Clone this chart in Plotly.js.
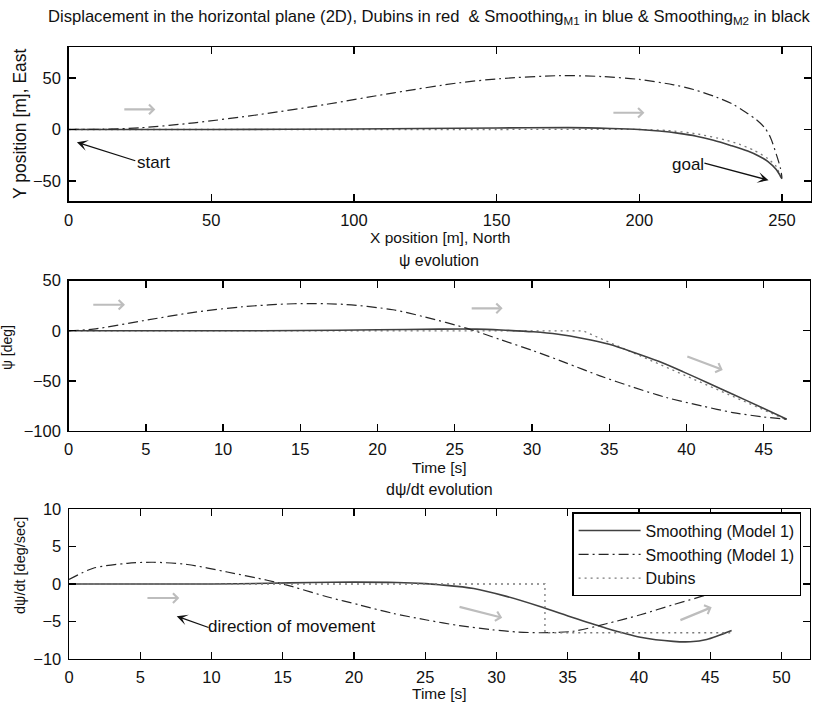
<!DOCTYPE html>
<html>
<head>
<meta charset="utf-8">
<script src="https://cdn.plot.ly/plotly-3.0.1.min.js"></script>
<style>html,body{margin:0;padding:0;background:#fff;}#chart{width:829px;height:704px;}</style>
</head>
<body>
<div id="chart"></div>
<script>
// ---------- Panel 1: horizontal displacement (X North vs Y East) ----------
const topDubinsX = [0, 50, 100, 150, 200, 210, 220, 230, 235, 240, 245, 248, 250];
const topDubinsY = [0, 0, 0, 0, 0, -1, -4.2, -10, -14.3, -20, -28.2, -36, -50];
const topM1X = [0, 25, 50, 100, 150, 175, 190, 200, 207, 214, 220, 226, 232, 238, 242, 245, 248, 250];
const topM1Y = [0, 0, 0, 0.5, 1.5, 1.8, 1.0, 0, -1.5, -3.8, -6.5, -10.5, -15.5, -21, -26, -31, -39, -48];
const topM2X = [0, 12, 25, 44, 67, 90, 114, 137, 151, 172, 187, 200, 212, 219, 227, 233, 238, 241, 244, 246, 248, 249.5, 250];
const topM2Y = [0, 0.3, 1.6, 6.5, 14.6, 24.3, 35.7, 45.5, 49.4, 52.4, 51.5, 48.7, 43.5, 38.9, 31.5, 24.3, 15.5, 9.7, 1.5, -8, -24, -38, -47];

// ---------- Panel 2: psi evolution ----------
const psiDubinsT = [0, 33.3, 46.5];
const psiDubinsV = [0, 0, -89];
const psiM1T = [0, 5, 10, 15, 20, 24, 26.4, 28, 30.1, 31.7, 33.3, 35, 36.6, 38.2, 39.8, 41.4, 43, 44.8, 46.5];
const psiM1V = [0, 0, 0, 0.3, 1, 1.7, 1.7, 0.8, -1, -3.5, -7.6, -13.5, -21.6, -30.5, -41, -52, -63.3, -76, -88.3];
const psiM2T = [0, 1.6, 4.8, 8.1, 11.3, 14.6, 17.8, 21, 23, 25.8, 28, 30.1, 32.2, 34.4, 36.5, 38.7, 41, 43, 45, 46.5];
const psiM2V = [0, 1.7, 10, 18.4, 24, 27, 26.4, 21, 14, 2.4, -9, -20, -32, -45, -56, -66.6, -75, -81.6, -86, -88.3];

// ---------- Panel 3: dpsi/dt evolution ----------
const ratDubinsT = [0, 33.4, 33.4, 46.4];
const ratDubinsV = [0, 0, -6.5, -6.5];
const ratM1T = [0, 5, 10, 14, 17, 20, 23, 25, 26, 28.4, 30.7, 33.05, 35.4, 37.7, 40.1, 42.4, 43.6, 44.75, 46.5];
const ratM1V = [0, 0, 0, 0.1, 0.2, 0.25, 0.2, 0.05, -0.1, -0.6, -1.65, -3.0, -4.5, -5.9, -7.1, -7.65, -7.7, -7.4, -6.2];
const ratM2T = [0, 1.7, 4.1, 5.9, 8.3, 11.1, 13.9, 15.7, 18.1, 20.4, 22.7, 25.1, 27.4, 29.7, 31.5, 33.1, 35.4, 37.7, 40.1, 42.4, 44.8, 46.5];
const ratM2V = [0.6, 2.1, 2.76, 2.9, 2.6, 1.6, 0.5, -0.36, -1.7, -2.8, -3.9, -4.8, -5.55, -6.1, -6.4, -6.5, -6.3, -5.3, -4.1, -2.76, -1.4, -0.1];

// legend names
const seriesNames = ['Smoothing (Model 1)', 'Smoothing (Model 1)', 'Dubins'];

// texts
const mainTitle = 'Displacement in the horizontal plane (2D), Dubins in red  & Smoothing<sub>M1</sub> in blue & Smoothing<sub>M2</sub> in black';
const axisTexts = {
  x1: 'X position [m], North', y1: 'Y position [m], East',
  t2: 'ψ evolution', x2: 'Time [s]', y2: 'ψ [deg]',
  t3: 'dψ/dt evolution', x3: 'Time [s]', y3: 'dψ/dt [deg/sec]'
};

// ---------- styling ----------
const FONT = 'Liberation Sans, Arial, Helvetica, sans-serif';
const W = 829, H = 704;
const px = v => v / W;
const py = v => 1 - v / H;

const solidStyle = {color: '#404040', width: 1.6, dash: 'solid', shape: 'spline', smoothing: 0.8};
const dashdotStyle = {color: '#262626', width: 1.2, dash: '10px,4px,2px,4px', shape: 'spline', smoothing: 0.8};
const dotStyle = {color: '#7a7a7a', width: 1.3, dash: '2px,4px'};

function tr(x, y, xa, ya, style, name, show) {
  return {x: x, y: y, xaxis: xa, yaxis: ya, type: 'scatter', mode: 'lines',
          line: style, name: name, showlegend: show, hoverinfo: 'skip'};
}

const data = [
  tr(topDubinsX, topDubinsY, 'x', 'y', Object.assign({}, dotStyle, {shape: 'spline', smoothing: 0.6}), seriesNames[2], false),
  tr(topM1X, topM1Y, 'x', 'y', solidStyle, seriesNames[0], false),
  tr(topM2X, topM2Y, 'x', 'y', dashdotStyle, seriesNames[1], false),
  tr(psiDubinsT, psiDubinsV, 'x2', 'y2', dotStyle, seriesNames[2], false),
  tr(psiM1T, psiM1V, 'x2', 'y2', solidStyle, seriesNames[0], false),
  tr(psiM2T, psiM2V, 'x2', 'y2', dashdotStyle, seriesNames[1], false),
  tr(ratM1T, ratM1V, 'x3', 'y3', solidStyle, seriesNames[0], true),
  tr(ratM2T, ratM2V, 'x3', 'y3', dashdotStyle, seriesNames[1], true),
  tr(ratDubinsT, ratDubinsV, 'x3', 'y3', dotStyle, seriesNames[2], true)
];

function ax(domain, range, dtick, anchor, extra) {
  return Object.assign({
    domain: domain, range: range, dtick: dtick, tick0: 0, anchor: anchor,
    showline: true, linecolor: '#000', linewidth: 1.4, mirror: 'ticks',
    ticks: 'inside', ticklen: 7, tickwidth: 1.4, tickcolor: '#000',
    showgrid: false, zeroline: false, fixedrange: true,
    tickfont: {family: FONT, size: 16.5, color: '#111'}, ticklabelstandoff: 3
  }, extra || {});
}

const layout = {
  width: W, height: H,
  margin: {l: 0, r: 0, t: 0, b: 0},
  paper_bgcolor: '#fff', plot_bgcolor: '#fff',
  font: {family: FONT, size: 16, color: '#111'},
  xaxis: ax([px(68.6), px(810.5)], [0, 260], 50, 'y'),
  yaxis: ax([py(201.4), py(47.3)], [-70, 80], 50, 'x', {tickvals: [-50, 0, 50]}),
  xaxis2: ax([px(68.6), px(810)], [0, 48], 5, 'y2'),
  yaxis2: ax([py(431), py(280.7)], [-100, 50], 50, 'x2'),
  xaxis3: ax([px(69), px(810)], [0, 52], 5, 'y3'),
  yaxis3: ax([py(659), py(509)], [-10, 10], 5, 'x3'),
  showlegend: true,
  legend: {
    x: px(572.3), y: py(512.3), xanchor: 'left', yanchor: 'top',
    bgcolor: '#fff', bordercolor: '#000', borderwidth: 1.3,
    font: {family: FONT, size: 16, color: '#111'},
    itemwidth: 62, tracegroupgap: 0
  },
  annotations: []
};

const A = layout.annotations;
function label(text, x, y, size, angle) {
  A.push({text: text, xref: 'paper', yref: 'paper', x: px(x), y: py(y),
          xanchor: 'center', yanchor: 'middle', showarrow: false,
          textangle: angle || 0, font: {family: FONT, size: size, color: '#111'}});
}
label(mainTitle, 429, 17, 16.6);
label(axisTexts.x1, 439.5, 237, 15.5);
label(axisTexts.y1, 20, 124, 17.5, -90);
label(axisTexts.t2, 439, 260, 16);
label(axisTexts.x2, 439, 467, 15.5);
label(axisTexts.y2, 7, 348, 14, -90);
label(axisTexts.t3, 439, 489, 16);
label(axisTexts.x3, 439, 693, 15.5);
label(axisTexts.y3, 20, 566, 14.5, -90);

function grayArrow(xr, yr, x0, y0, x1, y1) {
  A.push({text: '', xref: xr, yref: yr, axref: xr, ayref: yr,
          x: x1, y: y1, ax: x0, ay: y0, showarrow: true,
          arrowhead: 4, arrowsize: 0.85, arrowwidth: 2.2, arrowcolor: '#bdbdbd', standoff: 0});
}
grayArrow('x', 'y', 19.0, 19.5, 30.4, 19.5);
grayArrow('x', 'y', 190.4, 16.3, 201.8, 16.3);
grayArrow('x2', 'y2', 1.5, 26, 3.65, 26);
grayArrow('x2', 'y2', 26.0, 22.4, 28.1, 22.4);
grayArrow('x2', 'y2', 39.96, -25, 42.35, -39);
grayArrow('x3', 'y3', 5.4, -1.87, 7.74, -1.87);
grayArrow('x3', 'y3', 27.3, -3.0, 30.4, -4.5);
grayArrow('x3', 'y3', 42.8, -4.9, 45.1, -3.1);

function blackArrow(xr, yr, x0, y0, x1, y1, text, tx, ty) {
  A.push({text: '', xref: xr, yref: yr, axref: xr, ayref: yr,
          x: x1, y: y1, ax: x0, ay: y0, showarrow: true,
          arrowhead: 3, arrowsize: 1.4, arrowwidth: 1.3, arrowcolor: '#111', standoff: 0});
  A.push({text: text, xref: xr, yref: yr, x: tx, y: ty, showarrow: false,
          xanchor: 'center', yanchor: 'middle', font: {family: FONT, size: 17, color: '#111'}});
}
blackArrow('x', 'y', 23.9, -30.9, 2.9, -12.4, 'start', 29.7, -32.4);
blackArrow('x', 'y', 222.3, -32.4, 245.3, -49.4, 'goal', 216.9, -34.1);
blackArrow('x3', 'y3', 9.9, -5.87, 7.56, -4.3, 'direction of movement', 15.63, -5.73);

Plotly.newPlot('chart', data, layout, {staticPlot: true, displayModeBar: false});
</script>
</body>
</html>
